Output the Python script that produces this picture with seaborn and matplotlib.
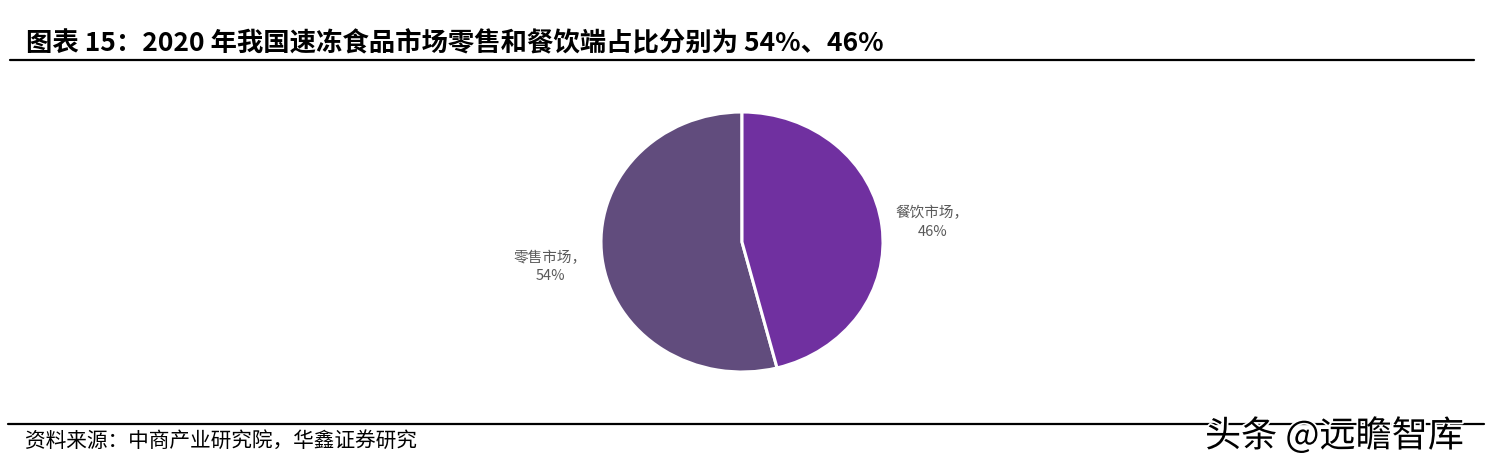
import numpy as np
import matplotlib
matplotlib.use("Agg")
import matplotlib.pyplot as plt
import matplotlib.patheffects as pe
import seaborn as sns

# Market share of quick-frozen food by channel, 2020
categories = ["零售市场", "餐饮市场"]
shares = [54, 46]
colors = ["#614C7D", "#7030A0"]

title = "图表 15：2020 年我国速冻食品市场零售和餐饮端占比分别为 54%、46%"
source = "资料来源：中商产业研究院，华鑫证券研究"
watermark = "头条 @远瞻智库"

sns.set_theme(style="white")
plt.rcParams["font.family"] = ["Noto Sans CJK SC", "DejaVu Sans"]

W, H = 1492, 471
fig = plt.figure(figsize=(W / 100, H / 100), dpi=100)
fig.patch.set_facecolor("white")

# pie axes (slightly wider than tall, as in the original layout)
cx, cy, rx, ry = 742, 242, 141, 130
ax = fig.add_axes([(cx - rx) / W, (H - cy - ry) / H, 2 * rx / W, 2 * ry / H])
wedges, _ = ax.pie(shares, colors=colors, startangle=90, counterclock=True,
                   wedgeprops=dict(edgecolor="white", linewidth=2.2))
ax.set_aspect("auto")
ax.set_xlim(-1, 1)
ax.set_ylim(-1, 1)
ax.axis("off")

total = sum(shares)
label_dist = {"零售市场": 1.37, "餐饮市场": 1.36}
for w, name, v in zip(wedges, categories, shares):
    mid = np.deg2rad((w.theta1 + w.theta2) / 2)
    d = label_dist[name]
    ax.text(d * np.cos(mid), d * np.sin(mid) - 0.02, f"{name}，\n{v / total * 100:.0f}%",
            ha="center", va="center", fontsize=10.5, color="#595959",
            linespacing=1.4, clip_on=False)

# header and footer
fig.text(26 / W, 1 - 44 / H, title, fontsize=19, fontweight="bold",
         color="black", ha="left", va="center")
fig.add_artist(plt.Line2D([10 / W, 1474 / W], [1 - 60 / H, 1 - 60 / H],
                          color="black", linewidth=1.6))
fig.add_artist(plt.Line2D([8 / W, 1484 / W], [1 - 424 / H, 1 - 424 / H],
                          color="black", linewidth=1.6))
fig.text(25 / W, 1 - 441 / H, source, fontsize=14.9, color="black",
         ha="left", va="center")
fig.text(1205 / W, 1 - 436 / H, watermark, fontsize=26, color="black",
         ha="left", va="center",
         path_effects=[pe.withStroke(linewidth=2.5, foreground="white")])

fig.savefig("out.png", dpi=100, facecolor="white")
